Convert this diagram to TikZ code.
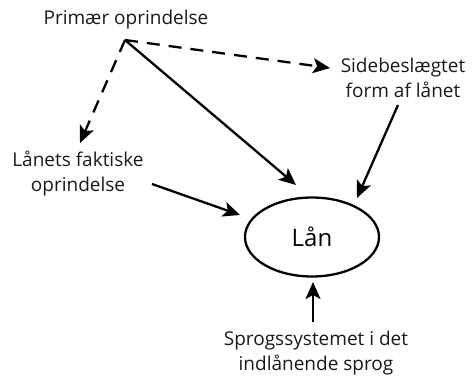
\documentclass[tikz,border=0pt]{standalone}
\usepackage{fontspec}
\setmainfont{Open Sans}
\usetikzlibrary{arrows.meta,shapes.geometric}
\begin{document}
\begin{tikzpicture}[x=1pt,y=-1pt,
  lbl/.style={align=center,font=\fontsize{19}{25}\selectfont,text=black!90,inner sep=0pt},
  con/.style={line width=2.3pt,-{Stealth[length=17pt,width=15pt,inset=4pt]}},
  dcon/.style={con,dash pattern=on 13pt off 9pt}]
\useasboundingbox (0,0) rectangle (474,375);
\node[lbl] (prim) at (126,20) {Primær oprindelse};
\coordinate (apex) at (125,40);
\node[lbl] (side) at (403,78) {Sidebeslægtet\\form af lånet};
\node[lbl] (fakt) at (78,174) {Lånets faktiske\\oprindelse};
\node[draw,line width=2.3pt,ellipse,minimum width=134pt,minimum height=79pt,inner sep=0pt,font=\fontsize{24}{28}\selectfont] (laan) at (312,237) {Lån};
\node[lbl] (sys) at (316,353) {Sprogssystemet i det\\indlånende sprog};
\coordinate (sideA) at (330,68);
\coordinate (faktA) at (80,143);
\coordinate (a1) at (296,185);
\coordinate (s0) at (398,105);
\coordinate (s1) at (357,198);
\coordinate (f0) at (152,184);
\coordinate (f1) at (240,215);
\coordinate (y0) at (313,322);
\coordinate (y1) at (313,282);
\draw[dcon] (apex) -- (sideA);
\draw[dcon] (apex) -- (faktA);
\draw[con] (apex) -- (a1);
\draw[con] (s0) -- (s1);
\draw[con] (f0) -- (f1);
\draw[con] (y0) -- (y1);
\end{tikzpicture}
\end{document}
